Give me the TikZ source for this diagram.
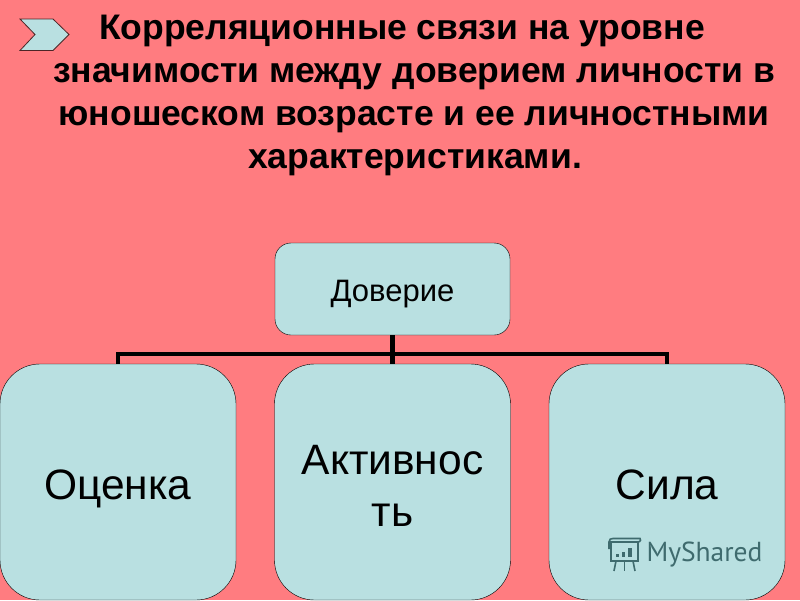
\documentclass[tikz,border=0pt]{standalone}
\usepackage{fontspec}
\setmainfont{Liberation Sans}
\newfontfamily\logofont{PT Sans}
\definecolor{bgpink}{HTML}{FF7C80}
\definecolor{boxblue}{HTML}{B9E0E1}
\definecolor{logoteal}{HTML}{3F6B6E}
\tikzset{
    titleline/.style={anchor=base, font=\fontsize{35.5}{40}\selectfont\bfseries, inner sep=0pt},
    topbox/.style={draw=black, fill=boxblue, rounded corners=16pt, minimum width=235pt, minimum height=92pt, inner sep=0pt, text height=24pt, text depth=0pt, font=\fontsize{31}{36}\selectfont},
    lowbox/.style={draw=black, fill=boxblue, rounded corners=40pt, minimum width=236pt, minimum height=236pt, inner sep=0pt, align=center, text height=34pt, text depth=0pt, font=\fontsize{42.5}{52}\selectfont},
    busline/.style={line width=4.5pt},
    logoline/.style={draw=logoteal, line width=1.6pt}
}
\begin{document}
\begin{tikzpicture}[x=1pt,y=-1pt]
    \useasboundingbox (0,0) rectangle (800,600);
    \fill [bgpink] (0,0) rectangle (800,600);

    % chevron
    \filldraw [fill=boxblue, draw=black!70!bgpink, line width=0.8pt] (20,19) -- (53,19) -- (69,34.5) -- (53,50.5) -- (20,50.5) -- (35,34.5) -- cycle;

    % title
    \node [titleline] (line1) at (402,39) {Корреляционные связи на уровне};
    \node [titleline] (line2) at (414,82) {значимости между доверием личности в};
    \node [titleline] (line3) at (414,125) {юношеском возрасте и ее личностными};
    \node [titleline] (line4) at (415,168) {характеристиками.};

    % boxes
    \node [topbox] (trust) at (392.5,289) {Доверие};
    \node [lowbox] (mark) at (118,482) {Оценка};
    \node [lowbox, text height=88pt, text depth=0pt] (activity) at (392.5,482) {Активнос\\ть};
    \node [lowbox] (force) at (667,482) {Сила};

    % bus
    \draw [busline] (trust.south) -- (activity.north);
    \draw [busline] (trust.south) ++(0,19) -| (mark.north);
    \draw [busline] (trust.south) ++(0,19) -| (force.north);

    % watermark
    \node [text=logoteal, inner sep=0pt, font=\logofont\fontsize{27.5}{32}\selectfont] (logo) at (704.5,555) {MyShared};
    \draw [logoline] (611,542) rectangle (638,561);
    \draw [logoline] (609,549) -- (609,542) .. controls (609,539) and (611,538.5) .. (613,538.5) -- (640,538.5) .. controls (641,538.5) and (641,542) .. (638,542);
    \draw [logoline] (616,561) -- (614,571);
    \draw [logoline] (624.5,561) -- (624.5,571);
    \draw [logoline] (633,561) -- (635,571);
    \fill [logoteal] (616,554) rectangle (619,557);
    \fill [logoteal] (622,552) rectangle (625,557);
    \fill [logoteal] (628,548) rectangle (632,557);
\end{tikzpicture}
\end{document}
